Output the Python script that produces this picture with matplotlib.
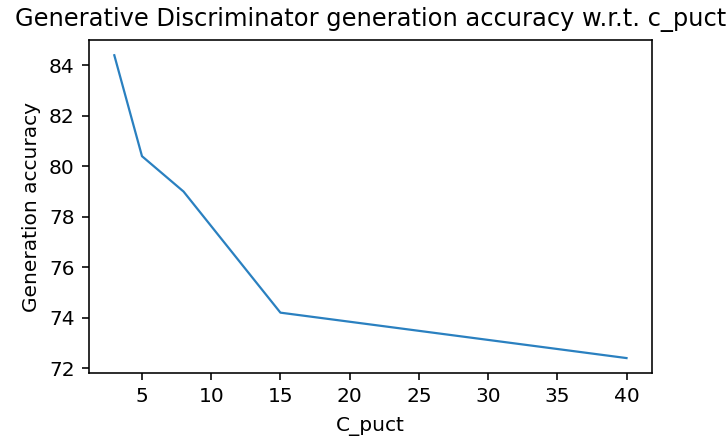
import matplotlib
matplotlib.use("Agg")
import matplotlib.pyplot as plt

# c_puct values and generation accuracy
c_puct = [3, 5, 8, 15, 40]
accuracy = [84.4, 80.4, 79.0, 74.2, 72.4]

xticks = [5, 10, 15, 20, 25, 30, 35, 40]
yticks = [72, 74, 76, 78, 80, 82, 84]

# the reference looks like default styling scaled up ~1.45x
s = 1.45
plt.rcParams['font.size'] = 10 * s
plt.rcParams['axes.titlesize'] = 12 * s
plt.rcParams['axes.titlepad'] = 6 * s + 1.5
plt.rcParams['axes.labelpad'] = 4 * s
plt.rcParams['axes.linewidth'] = 0.8 * s
for a in ('xtick', 'ytick'):
    plt.rcParams[a + '.major.size'] = 3.5 * s
    plt.rcParams[a + '.major.width'] = 0.8 * s
    plt.rcParams[a + '.major.pad'] = 3.5 * s

fig = plt.figure(figsize=(7.27, 4.36), dpi=100)
ax = fig.add_axes([0.122, 0.144, 0.775, 0.764])

ax.plot(c_puct, accuracy, color='#2a80c0', linewidth=1.6)
ax.set_xlabel('C_puct', labelpad=4 * s + 2)
ax.set_ylabel('Generation accuracy')
ax.set_title('Generative Discriminator generation accuracy w.r.t. c_puct')
ax.set_xticks(xticks)
ax.set_yticks(yticks)

fig.savefig('out.png', dpi=100)
